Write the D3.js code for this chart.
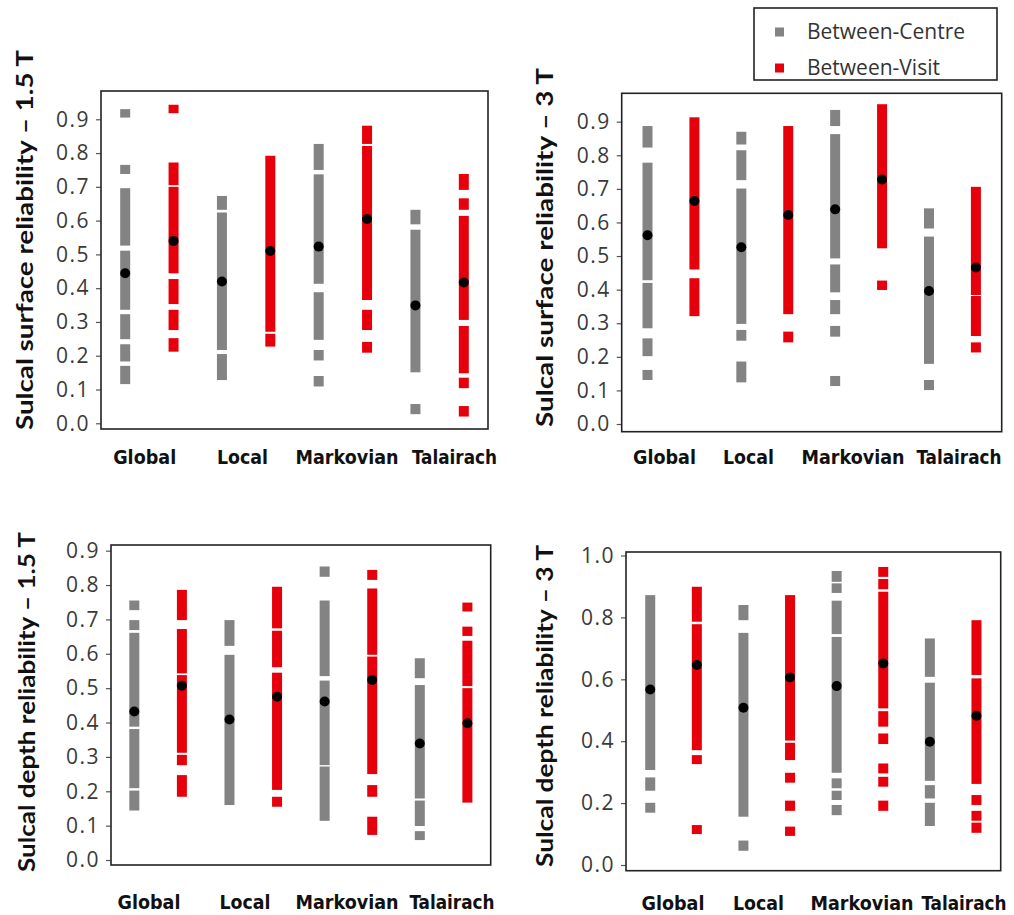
<!DOCTYPE html>
<html>
<head>
<meta charset="utf-8">
<script src="https://cdn.jsdelivr.net/npm/d3@7"></script>
<style>
  html, body { margin: 0; padding: 0; background: #fff; }
  svg { display: block; }
</style>
</head>
<body>
<svg id="chart" width="1014" height="915"></svg>
<script>
// ---------------- DATA ----------------
const categories = ["Global", "Local", "Markovian", "Talairach"];
const seriesNames = ["Between-Centre", "Between-Visit"];
const ticksTenths = [0.0, 0.1, 0.2, 0.3, 0.4, 0.5, 0.6, 0.7, 0.8, 0.9];
const ticksFifths = [0.0, 0.2, 0.4, 0.6, 0.8, 1.0];

// Each column: list of [low, high] extents of the stacked square markers
// Sulcal surface reliability – 1.5 T
const surf15Centre = [
  [[0.905,0.930],[0.738,0.765],[0.526,0.696],[0.336,0.511],[0.249,0.323],[0.183,0.234],[0.116,0.170]],
  [[0.632,0.673],[0.217,0.624],[0.128,0.205]],
  [[0.750,0.827],[0.413,0.737],[0.247,0.388],[0.186,0.217],[0.109,0.140]],
  [[0.589,0.632],[0.151,0.573],[0.027,0.057]]
];
const surf15CentreMean = [0.444, 0.420, 0.523, 0.349];
const surf15Visit = [
  [[0.918,0.943],[0.705,0.772],[0.444,0.700],[0.353,0.427],[0.276,0.336],[0.212,0.252]],
  [[0.271,0.792],[0.227,0.265]],
  [[0.827,0.881],[0.365,0.821],[0.276,0.336],[0.209,0.241]],
  [[0.691,0.738],[0.632,0.666],[0.306,0.614],[0.148,0.288],[0.104,0.135],[0.020,0.051]]
];
const surf15VisitMean = [0.540, 0.510, 0.605, 0.417];

// Sulcal surface reliability – 3 T
const surf3Centre = [
  [[0.823,0.887],[0.428,0.778],[0.285,0.420],[0.202,0.255],[0.131,0.161]],
  [[0.832,0.870],[0.726,0.815],[0.298,0.701],[0.248,0.280],[0.124,0.186]],
  [[0.887,0.935],[0.493,0.863],[0.392,0.475],[0.327,0.369],[0.260,0.292],[0.113,0.143]],
  [[0.582,0.642],[0.179,0.558],[0.101,0.131]]
];
const surf3CentreMean = [0.562, 0.526, 0.639, 0.396];
const surf3Visit = [
  [[0.460,0.913],[0.321,0.434]],
  [[0.327,0.887],[0.243,0.275]],
  [[0.523,0.952],[0.399,0.427]],
  [[0.384,0.706],[0.262,0.381],[0.213,0.243]]
];
const surf3VisitMean = [0.664, 0.622, 0.728, 0.466];

// Sulcal depth reliability – 1.5 T
const depth15Centre = [
  [[0.727,0.755],[0.669,0.698],[0.388,0.661],[0.209,0.381],[0.144,0.202]],
  [[0.623,0.698],[0.160,0.597]],
  [[0.824,0.854],[0.535,0.755],[0.276,0.522],[0.114,0.272]],
  [[0.529,0.587],[0.179,0.509],[0.099,0.173],[0.058,0.084]]
];
const depth15CentreMean = [0.432, 0.409, 0.461, 0.339];
const depth15Visit = [
  [[0.698,0.786],[0.543,0.672],[0.312,0.538],[0.276,0.306],[0.184,0.247]],
  [[0.674,0.795],[0.561,0.667],[0.204,0.545],[0.155,0.184]],
  [[0.815,0.844],[0.597,0.790],[0.250,0.592],[0.184,0.218],[0.073,0.126]],
  [[0.723,0.749],[0.652,0.679],[0.506,0.638],[0.167,0.500]]
];
const depth15VisitMean = [0.507, 0.475, 0.524, 0.398];

// Sulcal depth reliability – 3 T
const depth3Centre = [
  [[0.307,0.872],[0.240,0.283],[0.169,0.201]],
  [[0.791,0.840],[0.156,0.750],[0.046,0.079]],
  [[0.915,0.950],[0.879,0.910],[0.746,0.854],[0.298,0.737],[0.248,0.280],[0.210,0.240],[0.161,0.194]],
  [[0.608,0.732],[0.272,0.589],[0.215,0.258],[0.126,0.201]]
];
const depth3CentreMean = [0.567, 0.508, 0.578, 0.398];
const depth3Visit = [
  [[0.786,0.899],[0.371,0.778],[0.326,0.355],[0.100,0.129]],
  [[0.402,0.872],[0.339,0.395],[0.266,0.298],[0.175,0.208],[0.094,0.124]],
  [[0.931,0.963],[0.891,0.924],[0.506,0.883],[0.447,0.497],[0.391,0.425],[0.296,0.328],[0.253,0.285],[0.175,0.208]],
  [[0.614,0.791],[0.262,0.603],[0.194,0.226],[0.143,0.175],[0.104,0.137]]
];
const depth3VisitMean = [0.646, 0.606, 0.651, 0.482];

// ---------------- LAYOUT ----------------
const colors = ["#838383", "#e5000c"];
const catWidths = [63, 51, 103, 85];
const panels = [
  { title: "Sulcal surface reliability – 1.5 T", centre: surf15Centre, centreMean: surf15CentreMean,
    visit: surf15Visit, visitMean: surf15VisitMean, ticks: ticksTenths,
    x0: 101, x1: 488, y0: 91, y1: 429, yDom: [-0.0169, 0.9837], pad: 0.5,
    labX: 33, labCY: 240, labLen: 380, catX: [144.7, 242.5, 347, 454.5], catY: 464 },
  { title: "Sulcal surface reliability – 3 T", centre: surf3Centre, centreMean: surf3CentreMean,
    visit: surf3Visit, visitMean: surf3VisitMean, ticks: ticksTenths,
    x0: 621.7, x1: 1001.7, y0: 93.3, y1: 431.7, yDom: [-0.0229, 0.9845], pad: 0.55,
    labX: 553, labCY: 247.5, labLen: 359, catX: [664.5, 748.5, 853, 959], catY: 464 },
  { title: "Sulcal depth reliability – 1.5 T", centre: depth15Centre, centreMean: depth15CentreMean,
    visit: depth15Visit, visitMean: depth15VisitMean, ticks: ticksTenths,
    x0: 111, x1: 490.7, y0: 545, y1: 865, yDom: [-0.0145, 0.9165], pad: 0.49,
    labX: 35, labCY: 702, labLen: 340, catX: [149, 245, 347, 452], catY: 909 },
  { title: "Sulcal depth reliability – 3 T", centre: depth3Centre, centreMean: depth3CentreMean,
    visit: depth3Visit, visitMean: depth3VisitMean, ticks: ticksFifths,
    x0: 626, x1: 1000.7, y0: 552, y1: 870.7, yDom: [-0.0184, 1.0113], pad: 0.52,
    labX: 553, labCY: 706, labLen: 322, catX: [673, 758.5, 862, 964], catY: 910 }
];

const svg = d3.select("#chart");
const colW = 10;

panels.forEach(p => {
  const g = svg.append("g");
  const cols = [];
  categories.forEach(c => seriesNames.forEach(s => cols.push(c + "|" + s)));
  const x = d3.scalePoint().domain(cols).range([p.x0, p.x1]).padding(p.pad);
  const y = d3.scaleLinear().domain(p.yDom).range([p.y1, p.y0]);

  // axis
  const ax = g.append("g")
    .attr("transform", `translate(${p.x0},0)`)
    .call(d3.axisLeft(y).tickValues(p.ticks).tickSize(5).tickPadding(6).tickFormat(d3.format(".1f")));
  ax.select(".domain").remove();
  ax.selectAll(".tick line").attr("stroke", "#555").attr("stroke-width", 1.2);
  ax.selectAll(".tick text")
    .attr("fill", "#3a3a3a")
    .style("font-family", "'Open Sans', 'Noto Sans', sans-serif")
    .style("font-size", "21px")
    .style("letter-spacing", "1.5px");

  // columns
  const seriesData = [[p.centre, p.centreMean], [p.visit, p.visitMean]];
  seriesData.forEach(([segs, means], si) => {
    categories.forEach((c, ci) => {
      const cx = x(c + "|" + seriesNames[si]);
      g.selectAll(null).data(segs[ci]).enter().append("rect")
        .attr("x", cx - colW / 2)
        .attr("width", colW)
        .attr("y", d => y(d[1]))
        .attr("height", d => y(d[0]) - y(d[1]))
        .attr("fill", colors[si]);
      g.append("circle")
        .attr("cx", cx).attr("cy", y(means[ci])).attr("r", 5)
        .attr("fill", "#000");
    });
  });

  // frame
  g.append("rect")
    .attr("x", p.x0).attr("y", p.y0)
    .attr("width", p.x1 - p.x0).attr("height", p.y1 - p.y0)
    .attr("fill", "none").attr("stroke", "#222").attr("stroke-width", 1.6);

  // category labels
  g.selectAll(null).data(categories).enter().append("text")
    .attr("x", (d, i) => p.catX[i]).attr("y", p.catY)
    .attr("text-anchor", "middle")
    .attr("fill", "#111")
    .attr("textLength", (d, i) => catWidths[i])
    .attr("lengthAdjust", "spacingAndGlyphs")
    .style("font-family", "'DejaVu Sans Condensed', 'DejaVu Sans', sans-serif")
    .style("font-stretch", "condensed")
    .style("font-weight", "bold")
    .style("font-size", "20px")
    .text(d => d);

  // y label
  g.append("text")
    .attr("transform", `translate(${p.labX},${p.labCY}) rotate(-90)`)
    .attr("text-anchor", "middle")
    .attr("fill", "#111")
    .attr("textLength", p.labLen)
    .attr("lengthAdjust", "spacingAndGlyphs")
    .style("font-family", "Lato, 'Open Sans', sans-serif")
    .style("font-weight", "bold")
    .style("font-size", "22px")
    .text(p.title);
});

// legend
const lg = svg.append("g");
lg.append("rect").attr("x", 754).attr("y", 8).attr("width", 243).attr("height", 72)
  .attr("fill", "#fff").attr("stroke", "#222").attr("stroke-width", 1.6);
const legY = [32, 68];
seriesNames.forEach((s, i) => {
  lg.append("rect").attr("x", 775).attr("y", legY[i] - 4.5).attr("width", 9).attr("height", 9)
    .attr("fill", colors[i]);
  lg.append("text").attr("x", 807).attr("y", legY[i]).attr("dy", "0.35em")
    .attr("fill", "#333")
    .style("font-family", "'Open Sans', 'Noto Sans', sans-serif")
    .style("font-size", "21px")
    .text(s);
});
</script>
</body>
</html>
